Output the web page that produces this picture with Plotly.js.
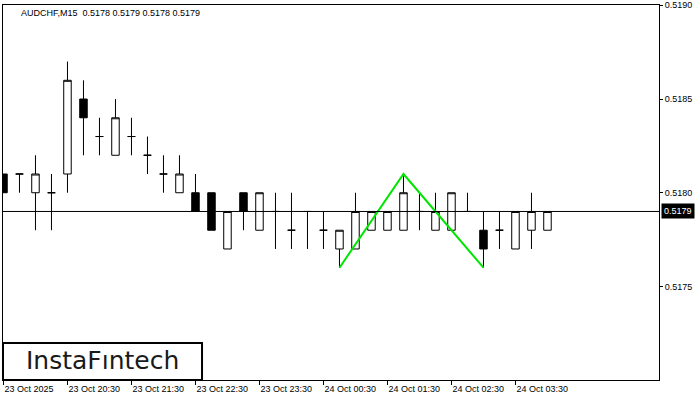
<!DOCTYPE html>
<html>
<head>
<meta charset="utf-8">
<script src="https://cdn.plot.ly/plotly-3.0.1.min.js"></script>
<style>html,body{margin:0;padding:0;background:#fff;}#chart{width:700px;height:400px;}</style>
</head>
<body>
<div id="chart"></div>
<script>
// Candle index (15-minute bars starting 23 Oct 2025 19:30)
const idx = [0,1,2,3,4,5,6,7,8,9,10,11,12,13,14,15,16,17,18,19,20,21,22,23,24,25,26,27,28,29,30,31,32,33,34];
const openP  = [0.5181,0.5181,0.5180,0.5180,0.5181,0.5185,0.5183,0.5182,0.5183,0.5182,0.5181,0.5180,0.5180,0.5180,0.5177,0.5180,0.5178,0.5179,0.5178,0.5179,0.5178,0.5177,0.5177,0.5178,0.5178,0.5178,0.5179,0.5178,0.5178,0.5179,0.5178,0.5178,0.5177,0.5178,0.5178];
const highP  = [0.5181,0.5181,0.5182,0.5181,0.5187,0.5186,0.5184,0.5185,0.5184,0.5183,0.5182,0.5182,0.5181,0.5180,0.5179,0.5180,0.5180,0.5180,0.5180,0.5179,0.5179,0.5178,0.5180,0.5179,0.5179,0.5181,0.5180,0.5180,0.5180,0.5180,0.5179,0.5179,0.5179,0.5180,0.5179];
const lowP   = [0.5180,0.5180,0.5178,0.5178,0.5180,0.5182,0.5182,0.5182,0.5182,0.5181,0.5180,0.5180,0.5179,0.5178,0.5177,0.5178,0.5178,0.5177,0.5177,0.5177,0.5177,0.5176,0.5177,0.5178,0.5178,0.5178,0.5178,0.5178,0.5178,0.5179,0.5176,0.5177,0.5177,0.5177,0.5178];
const closeP = [0.5180,0.5181,0.5181,0.5180,0.5186,0.5184,0.5183,0.5184,0.5183,0.5182,0.5181,0.5181,0.5179,0.5178,0.5179,0.5179,0.5180,0.5179,0.5178,0.5179,0.5178,0.5178,0.5179,0.5179,0.5179,0.5180,0.5179,0.5179,0.5180,0.5179,0.5177,0.5178,0.5179,0.5179,0.5179];

// Double top pattern points
const patternX = [21, 25, 30];
const patternY = [0.5176, 0.5181, 0.5176];

// Axis ticks
const xTickVals = [0,4,8,12,16,20,24,28,32];
const xTickText = ["23 Oct 2025","23 Oct 20:30","23 Oct 21:30","23 Oct 22:30","23 Oct 23:30","24 Oct 00:30","24 Oct 01:30","24 Oct 02:30","24 Oct 03:30"];
const yTickVals = [0.5175, 0.5180, 0.5185, 0.5190];
const yTickText = ["0.5175","0.5180","0.5185","0.5190"];

const symbol = "AUDCHF,M15";
const lastIdx = closeP.length - 1;
const lastClose = closeP[lastIdx];
const f4 = v => v.toFixed(4);
const header = symbol + "\u00a0\u00a0" + [openP[lastIdx], highP[lastIdx], lowP[lastIdx], closeP[lastIdx]].map(f4).join(" ");

const FONT = "Liberation Sans, Arial, sans-serif";

const traces = [
  {
    type: "candlestick",
    x: idx, open: openP, high: highP, low: lowP, close: closeP,
    increasing: {line: {color: "#000", width: 1}, fillcolor: "#fff"},
    decreasing: {line: {color: "#000", width: 1}, fillcolor: "#000"},
    whiskerwidth: 0,
    hoverinfo: "skip",
    showlegend: false
  },
  {
    type: "scatter", mode: "lines",
    x: patternX, y: patternY,
    line: {color: "#00e600", width: 2},
    hoverinfo: "skip", showlegend: false
  }
];

const layout = {
  width: 700, height: 400,
  margin: {l: 3, r: 41, t: 5, b: 20, pad: 0},
  paper_bgcolor: "#fff", plot_bgcolor: "#fff",
  boxgap: 0.33,
  showlegend: false,
  font: {family: FONT, size: 9, color: "#000"},
  xaxis: {
    type: "linear",
    range: [-0.03, 40.97],
    rangeslider: {visible: false},
    showgrid: false, zeroline: false,
    showline: true, linecolor: "#000", linewidth: 1, mirror: true,
    ticks: "outside", ticklen: 4, tickcolor: "#000", tickwidth: 1,
    tickmode: "array", tickvals: xTickVals, ticktext: xTickText,
    ticklabelposition: "outside right",
    ticklabeloverflow: "allow",
    tickfont: {family: FONT, size: 9, color: "#000"},
    fixedrange: true
  },
  yaxis: {
    side: "right",
    range: [0.5170008, 0.5190018],
    showgrid: false, zeroline: false,
    showline: true, linecolor: "#000", linewidth: 1, mirror: true,
    ticks: "outside", ticklen: 3, tickcolor: "#000", tickwidth: 1,
    tickmode: "array", tickvals: yTickVals, ticktext: yTickText,
    ticklabeloverflow: "allow",
    tickfont: {family: FONT, size: 9, color: "#000"},
    fixedrange: true
  },
  shapes: [
    {type: "line", xref: "paper", x0: 0, x1: 1, yref: "y", y0: lastClose, y1: lastClose,
     line: {color: "#000", width: 1}, layer: "above"},
    {type: "rect", xref: "paper", yref: "paper", x0: 0, x1: 0.3034, y0: 0, y1: 0.0987,
     line: {color: "#000", width: 2}, fillcolor: "#fff", layer: "above"}
  ],
  annotations: [
    {xref: "paper", yref: "paper", x: 0.0244, y: 1, xanchor: "left", yanchor: "top", yshift: -1,
     text: header, showarrow: false, font: {family: FONT, size: 9, color: "#000"}},
    {xref: "paper", yref: "y", x: 1, y: lastClose, xanchor: "left", yanchor: "middle", xshift: 2,
     text: f4(lastClose), showarrow: false, bgcolor: "#000", borderpad: 2,
     font: {family: FONT, size: 9, color: "#fff"}},
    {xref: "paper", yref: "paper", x: 0.1517, y: 0.052, xanchor: "center", yanchor: "middle",
     text: "InstaF\u0131ntech", showarrow: false,
     font: {family: "DejaVu Sans, sans-serif", size: 25, color: "#1a1a1a"}}
  ]
};

Plotly.newPlot("chart", traces, layout, {displayModeBar: false, staticPlot: true});
</script>
</body>
</html>
